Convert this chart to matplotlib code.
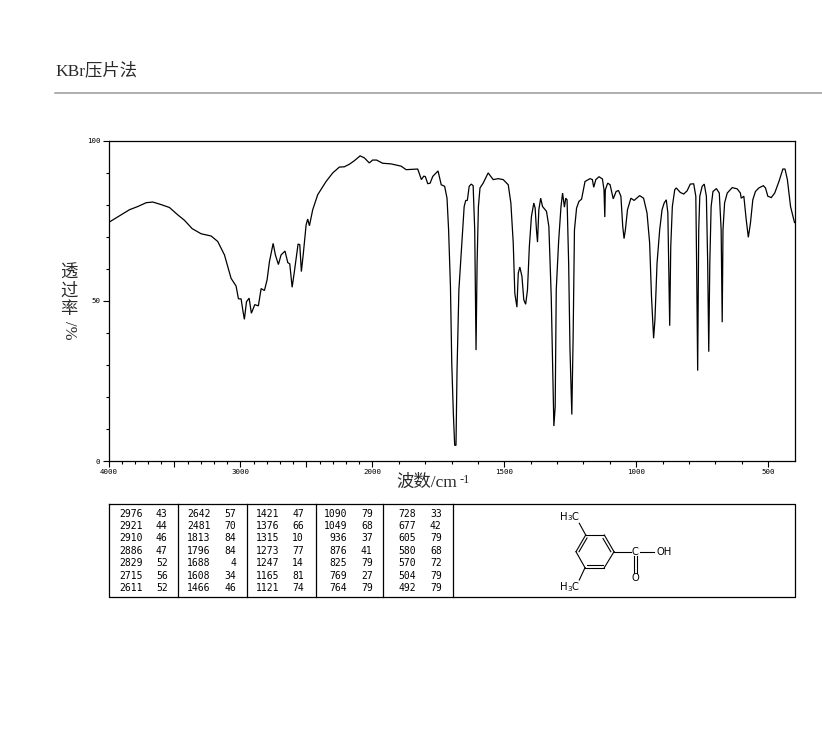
import numpy as np
import matplotlib
matplotlib.use('Agg')
import matplotlib.pyplot as plt
from matplotlib.ticker import FixedLocator, FixedFormatter, NullFormatter

W, H = 822, 737

# spettro: numero d'onda (cm-1)
wavenumber = [
    4000, 3992, 3916, 3841, 3778, 3714, 3664, 3601, 3538, 3475, 3424, 3366, 3298, 3222, 3172,
    3121, 3071, 3033, 3015, 2995, 2982, 2970, 2954, 2934, 2917, 2891, 2864, 2843, 2818, 2798,
    2780, 2752, 2735, 2712, 2692, 2662, 2641, 2626, 2608, 2591, 2563, 2550, 2538, 2523, 2502,
    2490, 2477, 2452, 2414, 2351, 2300, 2250, 2212, 2174, 2136, 2093, 2061, 2023, 1999, 1984,
    1961, 1929, 1891, 1872, 1847, 1828, 1814, 1805, 1799, 1790, 1781, 1771, 1751, 1739, 1726,
    1717, 1711, 1704, 1699, 1693, 1688, 1683, 1679, 1672, 1661, 1652, 1646, 1640, 1633, 1625,
    1618, 1612, 1607, 1603, 1598, 1592, 1580, 1561, 1542, 1523, 1504, 1485, 1475, 1466, 1460,
    1452, 1447, 1441, 1433, 1426, 1419, 1412, 1405, 1397, 1388, 1383, 1378, 1374, 1369, 1362,
    1355, 1340, 1331, 1322, 1317, 1312, 1307, 1303, 1294, 1285, 1279, 1272, 1267, 1262, 1256,
    1251, 1244, 1239, 1234, 1226, 1217, 1207, 1194, 1175, 1166, 1161, 1153, 1141, 1128, 1122,
    1119, 1117, 1108, 1099, 1087, 1076, 1067, 1058, 1051, 1046, 1041, 1033, 1020, 1008, 987,
    972, 959, 949, 942, 934, 929, 921, 911, 902, 894, 886, 880, 873, 869, 863,
    854, 848, 833, 820, 807, 795, 782, 774, 771, 767, 763, 759, 750, 742, 734,
    729, 725, 721, 716, 709, 696, 685, 678, 674, 671, 665, 655, 636, 617, 605,
    602, 592, 583, 575, 567, 558, 548, 535, 518, 510, 501, 488, 475, 459, 444,
    436, 427, 415, 400,
]
# trasmittanza (%)
transmittance = [
    74.4, 74.6, 76.5, 78.4, 79.4, 80.6, 80.8, 80.0, 79.1, 76.8, 75.1, 72.5, 70.9, 70.2, 68.5,
    64.3, 57.0, 54.6, 50.6, 50.6, 47.1, 44.2, 49.7, 50.8, 46.1, 48.8, 48.4, 53.8, 53.2, 56.5,
    62.2, 67.9, 64.3, 61.3, 64.3, 65.5, 61.9, 61.5, 54.2, 59.1, 67.7, 67.5, 59.1, 64.8, 73.7,
    75.5, 73.4, 78.4, 83.1, 87.2, 89.9, 91.7, 91.8, 92.6, 93.7, 95.2, 94.6, 93.0, 93.9, 93.9,
    92.9, 92.7, 92.0, 90.9, 91.0, 91.1, 87.8, 88.9, 88.7, 86.5, 86.7, 88.8, 90.5, 86.2, 85.7,
    82.0, 72.1, 54.4, 30.5, 14.8, 4.9, 4.9, 28.4, 53.4, 68.0, 79.4, 81.3, 81.3, 85.7, 86.4,
    85.9, 72.1, 34.6, 61.7, 79.4, 85.2, 86.7, 89.9, 87.8, 88.1, 87.8, 86.2, 80.5, 68.0, 52.3,
    48.0, 58.6, 60.5, 57.6, 50.3, 48.9, 53.4, 66.9, 76.3, 80.5, 78.9, 72.1, 68.3, 78.4, 82.0,
    79.4, 77.9, 73.2, 51.3, 30.5, 10.9, 17.0, 53.4, 68.5, 79.4, 83.6, 79.2, 82.0, 81.5, 61.7,
    35.1, 14.5, 38.8, 72.1, 78.9, 81.0, 81.7, 87.2, 88.1, 87.8, 85.4, 87.8, 88.7, 88.0, 84.6,
    76.1, 84.6, 86.7, 86.2, 81.8, 84.1, 84.4, 82.6, 73.2, 69.4, 72.1, 78.4, 82.0, 81.3, 82.8,
    82.0, 77.4, 68.0, 51.3, 38.3, 44.0, 61.7, 72.1, 78.4, 80.5, 81.5, 77.4, 42.2, 66.9, 79.4,
    84.6, 85.2, 83.8, 83.3, 84.3, 86.4, 86.5, 82.6, 61.7, 28.2, 72.1, 82.6, 85.7, 86.4, 82.6,
    61.7, 34.1, 61.7, 79.4, 84.1, 85.0, 83.6, 72.1, 43.3, 72.1, 80.5, 83.6, 85.3, 84.9, 83.6,
    82.0, 82.6, 75.3, 69.8, 74.2, 81.5, 84.1, 85.2, 85.9, 85.2, 82.6, 82.2, 83.6, 87.2, 91.1,
    91.1, 87.8, 79.4, 74.4,
]

# tabella dei picchi, una lista per colonna
peak_wn_1 = [2976, 2921, 2910, 2886, 2829, 2715, 2611]
peak_t_1 = [43, 44, 46, 47, 52, 56, 52]
peak_wn_2 = [2642, 2481, 1813, 1796, 1688, 1608, 1466]
peak_t_2 = [57, 70, 84, 84, 4, 34, 46]
peak_wn_3 = [1421, 1376, 1315, 1273, 1247, 1165, 1121]
peak_t_3 = [47, 66, 10, 77, 14, 81, 74]
peak_wn_4 = [1090, 1049, 936, 876, 825, 769, 764]
peak_t_4 = [79, 68, 37, 41, 79, 27, 79]
peak_wn_5 = [728, 677, 605, 580, 570, 504, 492]
peak_t_5 = [33, 42, 79, 68, 72, 79, 79]

x_major = [4000, 3000, 2000, 1500, 1000, 500]
x_major_labels = ['4000', '3000', '2000', '1500', '1000', '500']
x_mid = [3500, 2500]
y_major = [0, 50, 100]
y_major_labels = ['0', '50', '100']

SERIF = ['Liberation Serif', 'Noto Sans CJK SC']
TICK_FONT = 'DejaVu Sans Mono'


# asse x: sotto 2000 cm-1 la scala e' doppia
def forward(v):
    v = np.asarray(v, dtype=float)
    return np.where(v >= 2000, v, 2000 - (2000 - v) * 2)


def inverse(p):
    p = np.asarray(p, dtype=float)
    return np.where(p >= 2000, p, 2000 - (2000 - p) / 2)


def px_rect(left, top, right, bottom):
    return [left / W, 1 - bottom / H, (right - left) / W, (bottom - top) / H]


def draw_spectrum(fig):
    ax = fig.add_axes(px_rect(108.5, 140.5, 794.5, 461))
    ax.plot(wavenumber, transmittance, color='black', lw=0.9, solid_joinstyle='miter')
    ax.set_xscale('function', functions=(forward, inverse))
    ax.set_xlim(4000, 400)
    ax.set_ylim(0, 100)

    minor = [w for w in range(3900, 400, -100) if w not in x_major + x_mid]
    ax.xaxis.set_major_locator(FixedLocator(x_major + x_mid))
    ax.xaxis.set_major_formatter(FixedFormatter(x_major_labels + ['', '']))
    ax.xaxis.set_minor_locator(FixedLocator(minor))
    ax.xaxis.set_minor_formatter(NullFormatter())
    ax.yaxis.set_major_locator(FixedLocator(y_major))
    ax.yaxis.set_major_formatter(FixedFormatter(y_major_labels))
    ax.yaxis.set_minor_locator(FixedLocator(list(range(10, 100, 10))))
    ax.yaxis.set_minor_formatter(NullFormatter())

    ax.tick_params(which='major', length=4, width=0.8, labelsize=5.4, pad=2)
    ax.tick_params(axis='x', which='major', pad=1.5)
    ax.tick_params(which='minor', length=2, width=0.8)
    for lab in ax.get_xticklabels() + ax.get_yticklabels():
        lab.set_family(TICK_FONT)
    for s in ax.spines.values():
        s.set_linewidth(0.9)


def draw_table(ov):
    ov.plot([109, 794.5, 794.5, 109, 109], [504.3, 504.3, 596.7, 596.7, 504.3], color='black', lw=0.9)
    for x in [178, 246.7, 315.7, 383.3, 452.7]:
        ov.plot([x, x], [504.3, 596.7], color='black', lw=0.9)

    rows = [514, 526, 538.3, 550.7, 563.3, 575.7, 587.7]
    cols = [
        (142.7, 167.7, peak_wn_1, peak_t_1),
        (210.7, 236, peak_wn_2, peak_t_2),
        (279.3, 304, peak_wn_3, peak_t_3),
        (347.3, 372.7, peak_wn_4, peak_t_4),
        (416, 441.7, peak_wn_5, peak_t_5),
    ]
    for x_wn, x_t, wns, ts in cols:
        for y, w, t in zip(rows, wns, ts):
            ov.text(x_wn, y, str(w), ha='right', va='center', family=TICK_FONT, fontsize=7)
            ov.text(x_t, y, str(t), ha='right', va='center', family=TICK_FONT, fontsize=7)


def draw_structure(ov):
    bonds = [
        ((585.7, 535), (604.3, 535)),
        ((604.3, 535), (614, 551.7)),
        ((614, 551.7), (604.3, 567.7)),
        ((604.3, 567.7), (585, 567.7)),
        ((585, 567.7), (576, 551.7)),
        ((576, 551.7), (585.7, 535)),
        ((587, 538), (579, 551.7)),
        ((603, 538.5), (610.8, 551.7)),
        ((587, 565), (602.5, 565)),
        ((585.7, 535), (579.3, 523.3)),
        ((585, 567.7), (579.3, 580)),
        ((614, 551.7), (630.7, 551.7)),
        ((639.5, 551.7), (654, 551.7)),
        ((633.5, 556), (633.5, 572.7)),
        ((636.5, 556), (636.5, 572.7)),
    ]
    for a, b in bonds:
        ov.plot([a[0], b[0]], [a[1], b[1]], color='black', lw=0.8)
    font = dict(family='DejaVu Sans', fontsize=7.2, va='center')
    ov.text(560, 516.5, 'H', **font)
    ov.text(567, 518.5, '3', family='DejaVu Sans', fontsize=5, va='center')
    ov.text(571, 516.5, 'C', **font)
    ov.text(560, 587.3, 'H', **font)
    ov.text(567, 589.3, '3', family='DejaVu Sans', fontsize=5, va='center')
    ov.text(571, 587.3, 'C', **font)
    ov.text(635.3, 551.7, 'C', ha='center', **font)
    ov.text(635.3, 577.7, 'O', ha='center', **font)
    ov.text(656.5, 551.7, 'OH', **font)


def draw_labels(ov):
    ov.text(55, 71, 'KBr压片法', family=SERIF, fontsize=12.5, color='#2a2a2a', ha='left', va='center')
    ov.plot([55, 822], [93, 93], color='#999999', lw=1.1)

    ov.text(396.5, 483, '波数/cm', family=SERIF, fontsize=12.5, color='#2a2a2a', ha='left', va='center')
    ov.text(460, 480, '-1', family='Liberation Serif', fontsize=9, color='#2a2a2a', ha='left', va='center')

    for y, ch in zip([274, 292, 310], '透过率'):
        ov.text(69, y, ch, family=SERIF, fontsize=12.5, color='#2a2a2a', ha='center', va='center')
    ov.text(69, 330, '/%', family='Liberation Serif', fontsize=12, color='#2a2a2a',
            rotation=270, ha='center', va='center')


def main():
    fig = plt.figure(figsize=(W / 100, H / 100), dpi=100, facecolor='white')
    draw_spectrum(fig)

    # sovrapposizione in pixel per tabella, struttura e scritte
    ov = fig.add_axes([0, 0, 1, 1])
    ov.set_xlim(0, W)
    ov.set_ylim(H, 0)
    ov.axis('off')
    ov.patch.set_alpha(0)
    draw_table(ov)
    draw_structure(ov)
    draw_labels(ov)

    fig.savefig('out.png', dpi=100)
    plt.close(fig)


if __name__ == '__main__':
    main()
